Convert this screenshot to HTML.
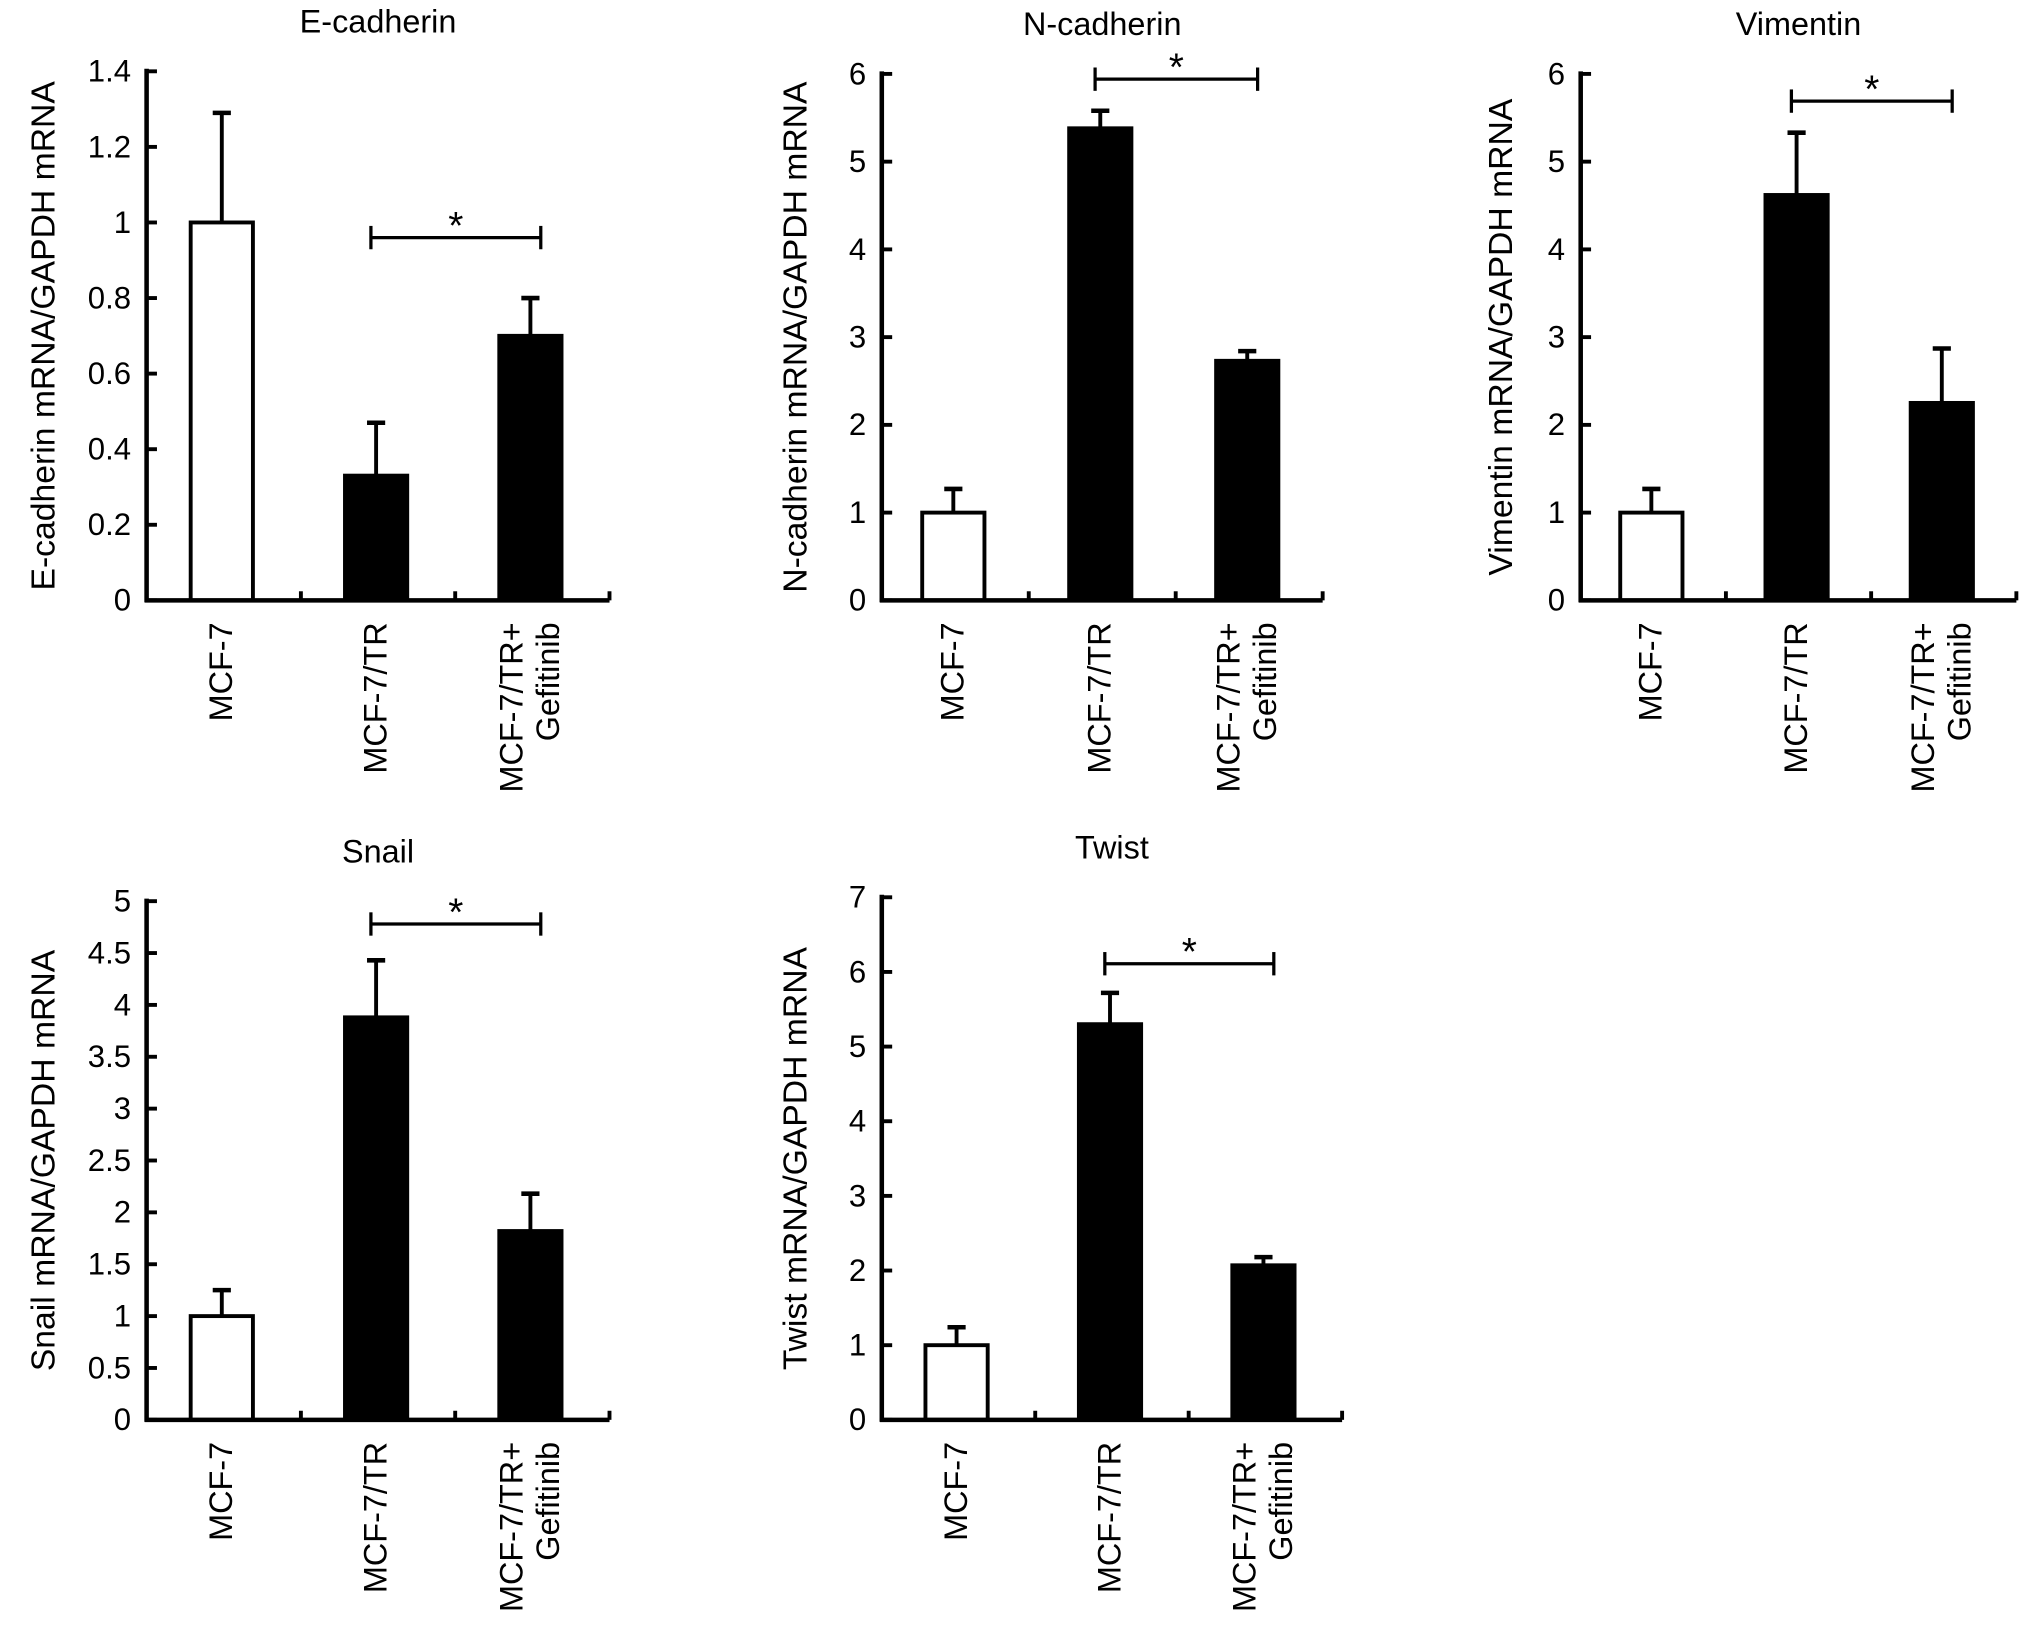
<!DOCTYPE html>
<html><head><meta charset="utf-8"><style>
html,body{margin:0;padding:0;background:#fff;}
svg{display:block;font-family:"Liberation Sans",Arial,sans-serif;}
</style></head><body>
<svg id="fig" width="2032" height="1626" viewBox="0 0 1567 1254" xmlns="http://www.w3.org/2000/svg"></svg>
<script>
const categories = ["MCF-7", "MCF-7/TR", "MCF-7/TR+|Gefitinib"];
const panelTitles = ["E-cadherin", "N-cadherin", "Vimentin", "Snail", "Twist"];
const yLabels = ["E-cadherin mRNA/GAPDH mRNA","N-cadherin mRNA/GAPDH mRNA","Vimentin mRNA/GAPDH mRNA","Snail mRNA/GAPDH mRNA","Twist mRNA/GAPDH mRNA"];
const ecadValues = [1.0, 0.33, 0.70];
const ecadErrors = [0.29, 0.14, 0.10];
const ncadValues = [1.0, 5.38, 2.73];
const ncadErrors = [0.27, 0.20, 0.11];
const vimValues = [1.0, 4.62, 2.25];
const vimErrors = [0.27, 0.71, 0.62];
const snailValues = [1.0, 3.88, 1.82];
const snailErrors = [0.25, 0.55, 0.36];
const twistValues = [1.0, 5.30, 2.07];
const twistErrors = [0.24, 0.42, 0.11];
const ecadTicks = ["0","0.2","0.4","0.6","0.8","1","1.2","1.4"];
const ncadTicks = ["0","1","2","3","4","5","6"];
const vimTicks = ["0","1","2","3","4","5","6"];
const snailTicks = ["0","0.5","1","1.5","2","2.5","3","3.5","4","4.5","5"];
const twistTicks = ["0","1","2","3","4","5","6","7"];
const yMax = [1.4, 6, 6, 5, 7];
const bracketLevel = [0.96, 5.94, 5.69, 4.78, 6.11];
const bracketPairs = [[1,2],[1,2],[1,2],[1,2],[1,2]];

const allValues=[ecadValues,ncadValues,vimValues,snailValues,twistValues];
const allErrors=[ecadErrors,ncadErrors,vimErrors,snailErrors,twistErrors];
const allTicks=[ecadTicks,ncadTicks,vimTicks,snailTicks,twistTicks];
// layout: axis origin x, zero y, top y, axis width, y-title offset
const layout=[[113,463,55,357,80],[680,463,57,340,67],[1219,463,57,336,62],[113,1095,695,357,80],[680,1095,692,355,67]];
const NS="http://www.w3.org/2000/svg";
const svg=document.getElementById('fig');
function mk(tag,attrs,parent){const e=document.createElementNS(NS,tag);for(const k in attrs)e.setAttribute(k,attrs[k]);(parent||svg).appendChild(e);return e;}
layout.forEach((L,p)=>{
  const [ax,zy,ty,W,yo]=L;
  const g=mk('g',{});
  
  
  const y=v=>zy-(v/yMax[p])*(zy-ty);
  const slot=W/3; const bx=i=>ax+slot*i+slot/2-1.5; const bw=48;
  const t=mk('text',{x:ax+W/2,y:ty-30,'text-anchor':'middle','font-size':25},g);t.textContent=panelTitles[p];
  
  const yl=mk('text',{x:0,y:0,'text-anchor':'middle','font-size':26,transform:`translate(${ax-yo+9},${(zy+ty)/2}) rotate(-90)`},g);yl.textContent=yLabels[p];
  
  const ticks=allTicks[p];
  ticks.forEach((lab,i)=>{const v=yMax[p]*i/(ticks.length-1);const yy=y(v);
    mk('line',{x1:ax,x2:ax+8,y1:yy,y2:yy,stroke:'#000','stroke-width':3},g);
    const tt=mk('text',{x:ax-12,y:yy+8,'text-anchor':'end','font-size':24},g);tt.textContent=lab;
    });
  const vals=allValues[p],errs=allErrors[p];
  vals.forEach((v,i)=>{const cx=bx(i);
    mk('line',{x1:cx,x2:cx,y1:y(v),y2:y(v+errs[i]),stroke:'#000','stroke-width':3},g);
    mk('line',{x1:cx-7,x2:cx+7,y1:y(v+errs[i]),y2:y(v+errs[i]),stroke:'#000','stroke-width':3.5},g);
    const r=mk('rect',{x:cx-bw/2,y:y(v),width:bw,height:zy-y(v),fill:i==0?'#fff':'#000',stroke:'#000','stroke-width':3},g);
    
    const parts=categories[i].split('|');
    parts.forEach((s,j)=>{const lx=cx+(parts.length>1?(j==0?-14:14):0)+8;
      const c=mk('text',{x:0,y:0,'text-anchor':'end','font-size':25,transform:`translate(${lx},${zy+17}) rotate(-90)`},g);c.textContent=s;
      });
  });
  mk('line',{x1:ax,x2:ax,y1:ty-2,y2:zy+1.5,stroke:'#000','stroke-width':3.5},g);
  mk('line',{x1:ax-1.5,x2:ax+W,y1:zy,y2:zy,stroke:'#000','stroke-width':3.5},g);
  [1,2,3].forEach(k=>mk('line',{x1:ax+slot*k,x2:ax+slot*k,y1:zy,y2:zy-7,stroke:'#000','stroke-width':3},g));
  const [a,b]=bracketPairs[p];const by=y(bracketLevel[p]);const x1=bx(a)-4,x2=bx(b)+8;
  const br=mk('g',{},g);
  mk('line',{x1:x1,x2:x2,y1:by,y2:by,stroke:'#000','stroke-width':2.5},br);
  mk('line',{x1:x1,x2:x1,y1:by-9,y2:by+9,stroke:'#000','stroke-width':2.5},br);
  mk('line',{x1:x2,x2:x2,y1:by-9,y2:by+9,stroke:'#000','stroke-width':2.5},br);
  const st=mk('text',{x:(x1+x2)/2,y:by+1,'text-anchor':'middle','font-size':30},br);st.textContent='*';
});
</script>
</body></html>
